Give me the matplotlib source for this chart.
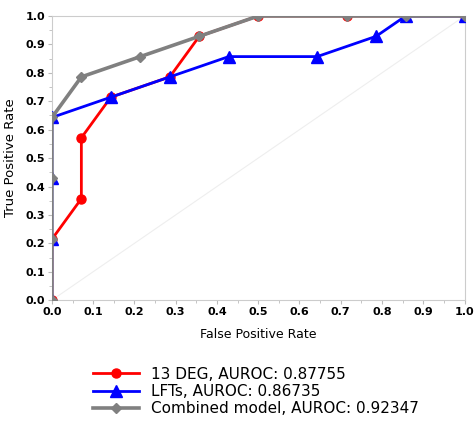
import matplotlib.pyplot as plt
from matplotlib.ticker import MultipleLocator

# ROC points (steps of 1/14)
deg_fpr = [0, 0, 1/14, 1/14, 2/14, 4/14, 5/14, 7/14, 10/14, 1.0]
deg_tpr = [0, 3/14, 5/14, 8/14, 10/14, 11/14, 13/14, 1.0, 1.0, 1.0]

lft_fpr = [0, 0, 0, 0, 2/14, 4/14, 6/14, 9/14, 11/14, 12/14, 1.0]
lft_tpr = [0, 3/14, 6/14, 9/14, 10/14, 11/14, 12/14, 12/14, 13/14, 1.0, 1.0]

comb_fpr = [0, 0, 0, 0, 1/14, 3/14, 5/14, 7/14, 10/14, 12/14, 1.0]
comb_tpr = [0, 3/14, 6/14, 9/14, 11/14, 12/14, 13/14, 1.0, 1.0, 1.0, 1.0]

labels = ["13 DEG, AUROC: 0.87755", "LFTs, AUROC: 0.86735",
          "Combined model, AUROC: 0.92347"]
ticks = [i / 10 for i in range(11)]

fig = plt.figure(figsize=(4.76, 4.21), dpi=100)
ax = fig.add_axes([0.109, 0.287, 0.867, 0.675])

ax.plot([0, 1], [0, 1], color="#eeeeee", lw=0.8, zorder=1)
ax.plot(deg_fpr, deg_tpr, color="red", lw=2, marker="o", ms=6.5,
        label=labels[0], zorder=2)
ax.plot(lft_fpr, lft_tpr, color="blue", lw=2, marker="^", ms=8.5,
        label=labels[1], zorder=3)
ax.plot(comb_fpr, comb_tpr, color="#808080", lw=2.6, marker="D", ms=5,
        label=labels[2], zorder=4)

ax.set_xlim(0, 1)
ax.set_ylim(0, 1)
ax.set_xticks(ticks)
ax.set_yticks(ticks)
ax.set_xticklabels([f"{t:.1f}" for t in ticks], fontweight="bold", fontsize=8)
ax.set_yticklabels([f"{t:.1f}" for t in ticks], fontweight="bold", fontsize=8)
ax.xaxis.set_minor_locator(MultipleLocator(0.05))
ax.yaxis.set_minor_locator(MultipleLocator(0.05))
ax.tick_params(which="both", color="#bbbbbb", length=3, pad=2)
ax.tick_params(which="minor", length=2)
for s in ax.spines.values():
    s.set_color("#cccccc")

ax.set_xlabel("False Positive Rate", fontsize=9, labelpad=8)
ax.set_ylabel("True Positive Rate", fontsize=9.5, labelpad=6)

fig.legend(loc="lower left", bbox_to_anchor=(0.17, -0.018), frameon=False,
           fontsize=11, handlelength=3, labelspacing=0.15, borderpad=0.3)

fig.savefig("out.png", dpi=100)
